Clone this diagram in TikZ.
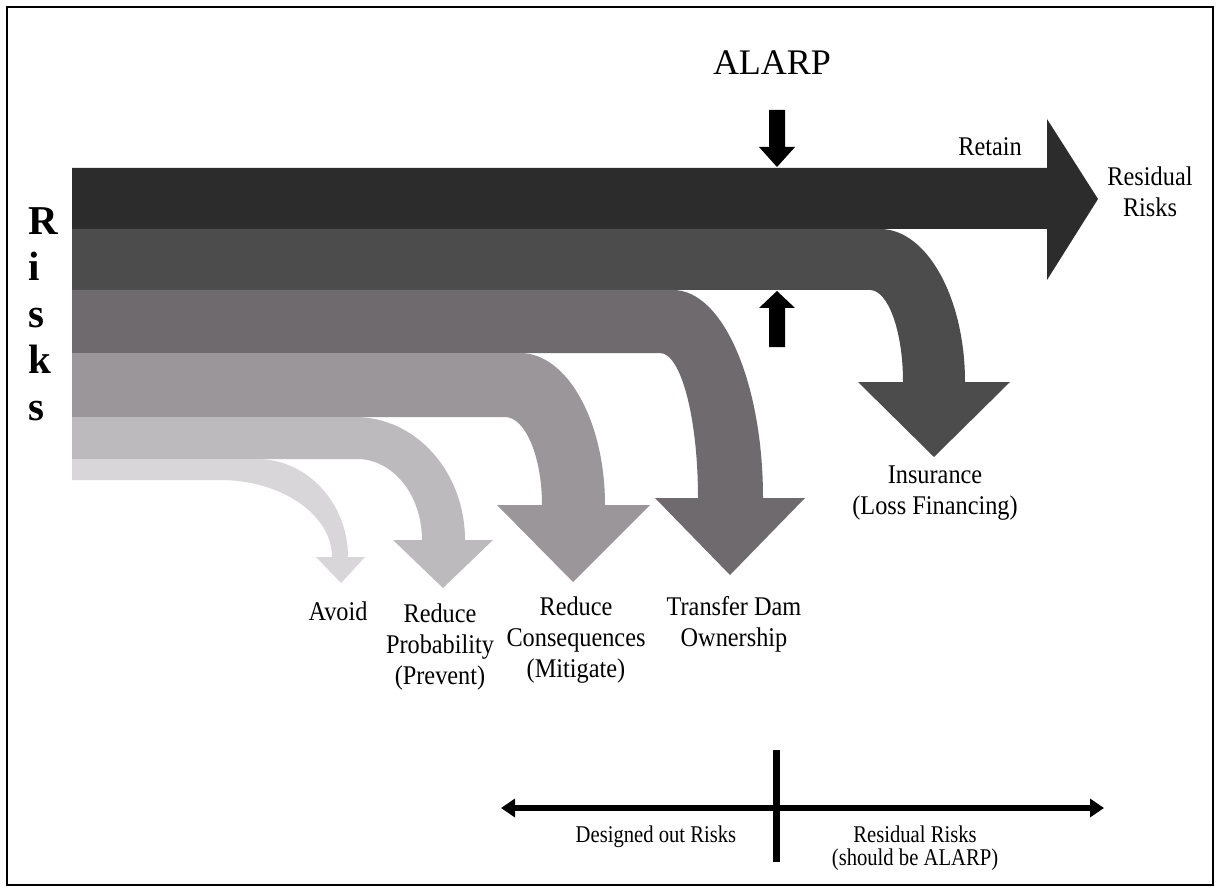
\documentclass[tikz,border=0pt]{standalone}
\usepackage{fontspec}
\setmainfont{Liberation Serif}
\newfontfamily\labelserif{Liberation Serif}[FakeStretch=0.9]
\newfontfamily\narrowserif{Liberation Serif}[FakeStretch=0.86]
\usetikzlibrary{arrows.meta}

\definecolor{retaincol}{HTML}{2C2C2C}
\definecolor{insurecol}{HTML}{4C4C4C}
\definecolor{transfercol}{HTML}{6E6A6E}
\definecolor{conscol}{HTML}{9A969A}
\definecolor{probcol}{HTML}{BDBABD}
\definecolor{avoidcol}{HTML}{D8D6D8}

\begin{document}
\begin{tikzpicture}[x=1pt,y=-1pt,
  lbl/.style={inner sep=0pt, align=center, font=\labelserif\fontsize{27}{31}\selectfont},
  axislbl/.style={inner sep=0pt, align=center, font=\narrowserif\fontsize{24}{23}\selectfont},
  alarptick/.style={fill=black}]
\useasboundingbox (0,0) rectangle (1220,890);
\fill[white] (0,0) rectangle (1220,890);
\draw[line width=2pt] (7,7) rectangle (1213,885);

% retained risks: straight block arrow
\fill[retaincol] (72,168) -- (1047,168) -- (1047,119) -- (1098,199)
  -- (1047,280) -- (1047,229) -- (72,229) -- cycle;

% insurance (loss financing)
\fill[insurecol] (72,229) -- (880,229)
  .. controls (927,229) and (965,298) .. (965,382)
  -- (1010,382) -- (934,457) -- (858,382) -- (903,382)
  .. controls (903,331) and (888,290) .. (870,290)
  -- (72,290) -- cycle;

% transfer dam ownership
\fill[transfercol] (72,290) -- (673,290)
  .. controls (723,290) and (763,383) .. (763,498)
  -- (805,498) -- (730,575) -- (655,498) -- (698,498)
  .. controls (698,418) and (681,353) .. (660,353)
  -- (72,353) -- cycle;

% reduce consequences (mitigate)
\fill[conscol] (72,353) -- (520,353)
  .. controls (567,353) and (605,421) .. (605,505)
  -- (650,505) -- (573,582) -- (497,505) -- (542,505)
  .. controls (542,456) and (525,417) .. (505,417)
  -- (72,417) -- cycle;

% reduce probability (prevent)
\fill[probcol] (72,417) -- (355,417)
  .. controls (416,417) and (465,472) .. (465,540)
  -- (493,540) -- (443,588) -- (393,540) -- (422,540)
  .. controls (422,495) and (393,459) .. (357,459)
  -- (72,459) -- cycle;

% avoid
\fill[avoidcol] (72,459) -- (257,459)
  .. controls (307,459) and (348,503) .. (348,557)
  -- (365,557) -- (341,583) -- (316,557) -- (332,557)
  .. controls (332,515) and (282,480) .. (220,480)
  -- (72,480) -- cycle;

% ALARP markers
\node[inner sep=0pt, anchor=base, font=\fontsize{36}{40}\selectfont] (alarp) at (772,75) {ALARP};
\fill[alarptick] (769,110) -- (785,110) -- (785,147) -- (795,147) -- (777,167)
  -- (759,147) -- (769,147) -- cycle;
\fill[alarptick] (777,291) -- (795,308) -- (785,308) -- (785,347) -- (769,347)
  -- (769,308) -- (759,308) -- cycle;

% vertical "Risks" title
\node[inner sep=0pt, anchor=north west, align=left,
  font=\bfseries\fontsize{41}{46.5}\selectfont] (risks) at (28,207) {R\\i\\s\\k\\s};

% labels (anchor=base sits on the last line's baseline)
\node[lbl, anchor=base] (retain) at (990,156) {Retain};
\node[lbl, anchor=base] (residual) at (1150,217) {Residual\\Risks};
\node[lbl, anchor=base] (insurance) at (935,514) {Insurance\\(Loss Financing)};
\node[lbl, anchor=base] (avoid) at (338,620) {Avoid};
\node[lbl, anchor=base] (prob) at (440,684) {Reduce\\Probability\\(Prevent)};
\node[lbl, anchor=base] (cons) at (576,677) {Reduce\\Consequences\\(Mitigate)};
\node[lbl, anchor=base] (transfer) at (734,646) {Transfer Dam\\Ownership};

% bottom scale
\coordinate (axisL) at (501,808);
\coordinate (axisR) at (1104,808);
\coordinate (divTop) at (776,750);
\coordinate (divBot) at (776,862);
\draw[line width=6pt, {Triangle[length=14pt,width=18pt]}-{Triangle[length=14pt,width=18pt]}] (axisL) -- (axisR);
\draw[line width=7pt] (divTop) -- (divBot);
\node[axislbl, anchor=base] (designed) at (656,842) {Designed out Risks};
\node[axislbl, anchor=base] (resid2) at (915,865) {Residual Risks\\(should be ALARP)};
\end{tikzpicture}
\end{document}
